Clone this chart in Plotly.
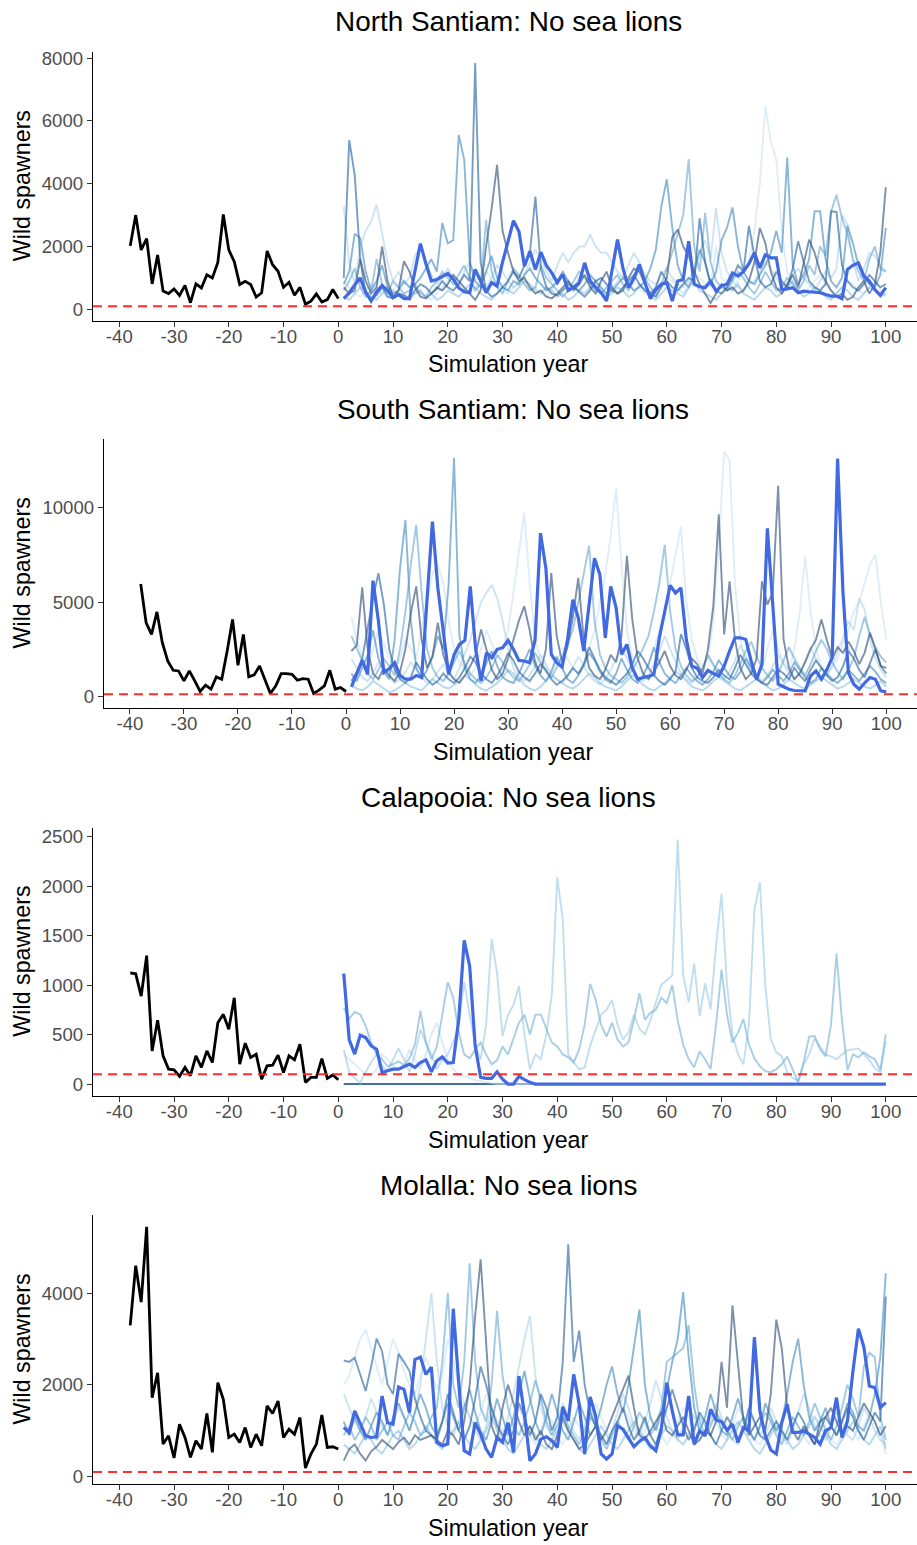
import plotly.graph_objects as go

# ---------------- data ----------------
years_hist = list(range(-38, 1))
years_sim = list(range(1, 101))
x_ticks = [-40, -30, -20, -10, 0, 10, 20, 30, 40, 50, 60, 70, 80, 90, 100]
x_ticktext = ["-40", "-30", "-20", "-10", "0", "10", "20", "30", "40", "50", "60", "70", "80", "90", "100"]
threshold = 100

titles = ["North Santiam: No sea lions", "South Santiam: No sea lions",
          "Calapooia: No sea lions", "Molalla: No sea lions"]

# ---- North Santiam ----
ns_hist = [2020, 3000, 1890, 2250, 810, 1730, 580, 500, 650, 440, 760, 210, 810, 680, 1100, 1000,
           1490, 3020, 1890, 1520, 790, 890, 790, 390, 525, 1860, 1420, 1210, 700, 860, 450, 700,
           160, 260, 490, 230, 310, 630, 340]
ns_focus = [340, 520, 780, 1000, 550, 270, 560, 760, 600, 370,
            470, 340, 340, 1250, 2090, 1450, 900, 950, 1050, 1140,
            960, 680, 560, 530, 1270, 900, 530, 850, 740, 1500,
            2150, 2820, 2480, 1370, 1850, 1270, 1820, 1400, 1160, 850,
            1110, 600, 700, 850, 1480, 900, 700, 530, 265, 1300,
            2220, 1300, 690, 1000, 1430, 850, 340, 630, 800, 850,
            265, 900, 950, 2170, 800, 720, 690, 900, 580, 750,
            800, 1160, 1060, 1200, 1450, 1800, 1320, 1740, 1640, 1640,
            630, 650, 690, 530, 580, 560, 550, 530, 470, 420,
            420, 340, 1270, 1400, 1480, 1060, 900, 630, 445, 690]
ns_sim_a = [1000, 5390, 4280, 1600, 500, 300, 450, 700, 400, 350,
            500, 450, 350, 600, 800, 700, 500, 650, 900, 700,
            600, 800, 1100, 900, 7840, 1500, 600, 400, 500, 700,
            900, 1200, 1000, 1400, 1800, 3590, 1300, 700, 500, 450,
            600, 800, 700, 550, 400, 600, 900, 1000, 800, 600,
            500, 700, 900, 1100, 800, 600, 500, 700, 1200, 900,
            700, 600, 800, 1000, 900, 2900, 1500, 800, 600, 500,
            700, 1000, 1400, 1200, 2660, 1700, 900, 700, 800, 1200,
            900, 700, 1300, 2170, 1500, 900, 700, 600, 800, 3120,
            3100, 1400, 900, 700, 600, 800, 1100, 900, 700, 800]
ns_sim_b = [700, 500, 600, 1600, 900, 500, 700, 2000, 900, 400,
            600, 1530, 1200, 700, 400, 350, 500, 700, 600, 800,
            1100, 900, 700, 500, 300, 600, 2000, 3200, 4600, 2500,
            1800, 1200, 900, 1000, 700, 500, 600, 400, 350, 500,
            700, 900, 600, 800, 1100, 700, 500, 900, 1200, 700,
            500, 600, 1000, 1300, 1200, 800, 500, 400, 700, 1000,
            2300, 2540, 2000, 1700, 1200, 800, 500, 200, 500, 800,
            600, 700, 500, 600, 900, 1500, 2590, 2100, 1200, 700,
            500, 800, 1100, 700, 1500, 2220, 1800, 1200, 900, 600,
            400, 500, 300, 400, 700, 900, 500, 800, 1800, 3890]
ns_sim_c = [800, 1200, 2410, 2270, 1200, 600, 900, 1400, 700, 500,
            600, 900, 700, 800, 1000, 1300, 1600, 1200, 2750, 2100,
            2200, 5550, 4760, 1500, 900, 700, 1200, 1700, 1000, 700,
            600, 900, 800, 1100, 1300, 1000, 800, 600, 700, 900,
            1200, 900, 700, 600, 800, 1100, 900, 700, 500, 600,
            800, 1000, 800, 600, 700, 900, 1300, 1900, 3280, 4140,
            2600, 1400, 900, 700, 1100, 1900, 1500, 800, 1200, 2200,
            2600, 3245, 2000, 1200, 900, 800, 1100, 1400, 1800, 2500,
            1800, 4830, 1400, 800, 1100, 1600, 3120, 3120, 1600, 900,
            700, 1000, 2660, 2100, 1400, 1000, 800, 700, 1100, 2590]
ns_sim_d = [600, 900, 1300, 700, 400, 600, 1600, 800, 500, 900,
            700, 500, 600, 800, 500, 400, 700, 900, 1200, 1000,
            800, 1100, 1400, 1000, 600, 800, 2850, 1200, 700, 500,
            900, 1300, 1100, 800, 600, 700, 1400, 1000, 800, 600,
            400, 600, 900, 1200, 1000, 800, 600, 500, 700, 900,
            1100, 800, 600, 900, 1300, 1000, 700, 500, 800, 1300,
            1800, 2400, 3000, 4780, 2000, 1200, 3070, 1500, 900, 700,
            600, 900, 1200, 1000, 700, 500, 800, 1200, 900, 600,
            700, 1000, 800, 600, 900, 1400, 1100, 2000, 1700, 3100,
            3650, 2900, 2400, 1600, 1200, 900, 1600, 2000, 1300, 1200]
ns_sim_e = [400, 300, 500, 700, 600, 400, 300, 500, 700, 600,
            500, 400, 300, 500, 600, 400, 500, 300, 400, 600,
            500, 400, 600, 800, 700, 500, 400, 300, 500, 700,
            600, 500, 700, 900, 800, 600, 500, 700, 600, 400,
            500, 300, 400, 600, 500, 700, 900, 600, 400, 500,
            700, 600, 400, 500, 800, 600, 400, 300, 500, 700,
            600, 500, 400, 700, 900, 600, 500, 400, 300, 500,
            700, 600, 800, 500, 400, 300, 500, 700, 600, 400,
            500, 700, 900, 600, 400, 500, 700, 600, 400, 300,
            500, 700, 600, 400, 300, 500, 700, 600, 400, 500]
ns_sim_f = [3280, 1500, 800, 2000, 2500, 2800, 3330, 2400, 1500, 900,
            1200, 800, 1000, 1700, 2000, 1500, 1100, 800, 1000, 1300,
            1000, 800, 1200, 1500, 1100, 900, 700, 1000, 1400, 1200,
            900, 700, 800, 1100, 1500, 1900, 1600, 1200, 900, 1400,
            1800, 1500, 1800, 2000, 2000, 2380, 2000, 1800, 1800, 1500,
            1200, 1000, 1400, 1800, 1500, 1100, 900, 800, 1100, 1300,
            1000, 800, 700, 900, 1300, 1800, 2200, 1600, 3220, 1800,
            1200, 900, 700, 600, 800, 900, 1200, 1500, 1300, 1000,
            800, 700, 1100, 1300, 1000, 800, 600, 900, 1200, 1000,
            1300, 3000, 2700, 1500, 900, 1300, 1800, 1700, 1400, 1200]
ns_sim_g = [900, 700, 500, 400, 600, 800, 700, 500, 400, 600,
            800, 900, 700, 500, 600, 400, 300, 500, 700, 900,
            1000, 800, 600, 500, 700, 900, 1200, 1000, 800, 600,
            500, 700, 900, 800, 600, 700, 500, 400, 600, 900,
            1100, 900, 700, 1000, 1300, 1000, 800, 600, 500, 700,
            900, 1100, 800, 600, 700, 500, 400, 600, 800, 1000,
            900, 700, 500, 800, 1200, 1000, 800, 700, 2000, 1000,
            800, 600, 900, 1200, 1500, 2500, 4000, 6480, 5340, 4760,
            2500, 1200, 800, 600, 500, 700, 900, 1100, 800, 600,
            500, 700, 900, 800, 600, 500, 700, 900, 600, 400]
ns_yticks = [0, 2000, 4000, 6000, 8000]

# ---- South Santiam ----
ss_hist = [5960, 3896, 3279, 4478, 2838, 1869, 1375, 1340, 811, 1340, 811, 247, 582, 370, 1023,
           899, 2398, 4073, 1640, 3279, 1023, 1128, 1604, 899, 141, 547, 1199, 1199, 1164, 846,
           934, 899, 141, 317, 547, 1375, 370, 458, 247]
ss_focus = [490, 1200, 1900, 1160, 6135, 4000, 1250, 1450, 1780, 1100,
            900, 900, 1100, 1000, 5000, 9270, 5750, 3500, 1160, 2200,
            2750, 2960, 5835, 2500, 810, 2310, 2045, 2490, 2575, 2960,
            2490, 1900, 1870, 1780, 3000, 8660, 6800, 2220, 1780, 1550,
            3000, 5130, 4160, 2400, 5000, 7330, 6450, 3100, 5835, 4690,
            2220, 2750, 1500, 900, 990, 1050, 1160, 3100, 4500, 5890,
            5480, 5750, 3000, 1600, 1480, 990, 1375, 1200, 1075, 1600,
            2400, 3100, 3100, 3015, 1870, 900, 1690, 8920, 4870, 635,
            500, 370, 300, 280, 280, 1075, 1340, 900, 1400, 2045,
            12620, 5500, 1250, 635, 370, 700, 990, 900, 280, 230]
ss_sim_a = [2400, 2700, 5780, 2500, 1200, 900, 1500, 1100, 800, 1300,
            2500, 4420, 5835, 3000, 1500, 2100, 3900, 2200, 1300, 900,
            700, 1100, 1600, 2200, 3545, 2400, 1400, 900, 1200, 2000,
            3000, 4000, 4780, 3500, 1800, 1200, 2500, 6540, 3200, 1800,
            2600, 4200, 6280, 3000, 1500, 1100, 900, 1400, 2200, 1800,
            3200, 7460, 4070, 2000, 1200, 900, 1300, 1800, 2400, 1600,
            1100, 900, 1400, 2000, 1700, 1200, 2500, 4800, 9660, 3280,
            6100, 3000, 1500, 900, 1200, 2000, 6100, 4870, 5500, 11180,
            3000, 1500, 900, 1200, 1800, 2500, 3000, 4070, 3000, 2000,
            2600, 2300, 2900, 2400, 1700, 2300, 3370, 2500, 1600, 1500]
ss_sim_b = [800, 1300, 2000, 3600, 5200, 6540, 4870, 2500, 1400, 900,
            700, 1000, 1800, 1300, 900, 600, 800, 1200, 900, 700,
            1000, 1500, 2100, 1800, 1200, 900, 700, 1100, 1600, 2300,
            1900, 1300, 1000, 800, 1200, 1700, 1400, 900, 600, 800,
            1100, 1500, 1200, 1700, 2600, 2000, 1400, 1000, 800, 600,
            900, 1200, 1700, 2400, 2000, 1500, 1100, 800, 600, 900,
            1300, 3300, 2500, 1500, 1000, 800, 700, 1000, 1400, 1100,
            900, 1500, 2200, 1700, 1200, 900, 700, 600, 1000, 1400,
            1200, 900, 1500, 1100, 800, 1400, 1900, 1500, 1100, 800,
            1000, 1600, 2400, 2000, 1400, 1000, 1800, 2500, 1600, 1200]
ss_sim_c = [1200, 800, 1500, 2200, 3500, 2000, 1300, 900, 3000, 6800,
            9360, 4000, 1500, 900, 1400, 2100, 3200, 2500, 6000, 12660,
            3200, 1500, 900, 700, 1100, 1800, 2400, 1600, 1000, 800,
            700, 1200, 1900, 2500, 1600, 1100, 800, 1300, 2100, 1500,
            900, 700, 1100, 1600, 2300, 1900, 1300, 900, 700, 1200,
            2000, 1400, 900, 700, 1100, 1700, 2600, 1800, 1200, 900,
            700, 1100, 1500, 1100, 800, 600, 900, 1300, 1900, 1500,
            1100, 900, 1300, 2000, 1500, 1000, 700, 1000, 1400, 1100,
            800, 1200, 1800, 1400, 1000, 700, 900, 1500, 1200, 900,
            700, 1000, 1400, 1100, 800, 1200, 1600, 1300, 900, 700]
ss_sim_d = [3200, 2500, 1800, 1200, 900, 1400, 2000, 1600, 1100, 2500,
            4500, 7000, 9100, 5500, 2500, 1500, 1000, 800, 1200, 1800,
            2400, 1700, 1200, 900, 700, 1000, 1500, 2200, 1800, 1300,
            1000, 800, 1200, 1700, 2300, 1800, 1300, 1000, 1500, 2100,
            2800, 3500, 5000, 6500, 7990, 4000, 2200, 1500, 1100, 900,
            700, 1000, 1400, 1900, 2600, 3200, 4500, 6000, 8040, 4500,
            2500, 1600, 1100, 800, 1000, 1500, 2200, 1700, 1200, 900,
            700, 1100, 1700, 2400, 2900, 2100, 1500, 1100, 800, 1200,
            1900, 2600, 2000, 1500, 1100, 1700, 2400, 3000, 2500, 1800,
            1300, 900, 1400, 2000, 3200, 4200, 3300, 2600, 2100, 1800]
ss_sim_e = [600, 400, 300, 500, 800, 600, 400, 200, 300, 500,
            700, 500, 400, 300, 600, 900, 700, 500, 400, 600,
            800, 1100, 900, 600, 400, 300, 500, 700, 1000, 1400,
            1200, 900, 600, 400, 300, 500, 800, 1100, 900, 700,
            500, 400, 600, 900, 1200, 1000, 700, 500, 400, 300,
            500, 800, 1100, 900, 600, 400, 300, 500, 700, 1000,
            1300, 1100, 800, 500, 400, 300, 500, 800, 1000, 800,
            600, 400, 300, 500, 700, 900, 700, 500, 300, 400,
            600, 900, 700, 500, 400, 600, 800, 1000, 800, 600,
            400, 500, 700, 900, 700, 500, 400, 600, 800, 500]
ss_sim_f = [2000, 1500, 1000, 800, 1200, 1800, 1400, 1000, 700, 900,
            1300, 1800, 1400, 1000, 700, 900, 1300, 1700, 1200, 900,
            1500, 2200, 3000, 4000, 5000, 5500, 5920, 5200, 4000, 2500,
            1500, 1000, 800, 1100, 1600, 2200, 1700, 1200, 900, 700,
            1000, 1500, 2100, 1600, 1100, 800, 600, 900, 1400, 2000,
            2600, 2000, 1400, 1000, 800, 1100, 1700, 2400, 3200, 2500,
            1800, 1200, 900, 700, 1000, 1500, 2100, 1600, 1100, 900,
            1300, 1900, 2700, 2100, 1500, 1100, 800, 1100, 1600, 2200,
            1700, 1200, 900, 1300, 1900, 2600, 2000, 1500, 1100, 1600,
            2400, 3100, 4000, 3500, 5200, 4600, 3000, 2000, 1400, 1000]
ss_sim_g = [4200, 3000, 2000, 1500, 2500, 3500, 2800, 2000, 1500, 2000,
            3000, 2500, 2000, 3500, 5000, 6500, 7000, 6000, 4000, 2500,
            1800, 1400, 1100, 1500, 2500, 3500, 2800, 2000, 2500, 3500,
            5500, 7500, 9750, 6000, 3000, 2000, 1500, 1200, 1800, 2600,
            2000, 1500, 1200, 1600, 2500, 3500, 5000, 6500, 8500, 11040,
            7000, 3500, 2000, 1500, 1200, 1600, 2500, 3500, 4500, 6000,
            7500, 9010, 5000, 3000, 2000, 1500, 2000, 4000, 8000, 13010,
            12540, 6000, 3000, 1800, 1300, 1000, 1500, 2500, 3500, 2500,
            1800, 1400, 2500, 4500, 7420, 4500, 2500, 1600, 1200, 1500,
            2000, 2800, 3500, 4500, 5000, 6000, 7000, 7510, 5000, 3000]
ss_yticks = [0, 5000, 10000]

# ---- Calapooia ----
cal_hist = [1124, 1114, 889, 1298, 335, 644, 285, 151, 144, 77, 168, 84, 285, 168, 335, 218,
            620, 704, 553, 872, 201, 413, 268, 302, 50, 184, 191, 292, 117, 285, 245, 402,
            17, 67, 67, 258, 57, 91, 44]
cal_focus = [1117, 446, 302, 493, 470, 386, 352, 117, 134, 151,
             151, 178, 201, 168, 218, 245, 124, 235, 275, 211,
             218, 654, 1452, 1191, 386, 67, 57, 57, 124, 50,
             0, 0, 77, 44, 17, 0, 0, 0, 0, 0,
             0, 0, 0, 0, 0, 0, 0, 0, 0, 0,
             0, 0, 0, 0, 0, 0, 0, 0, 0, 0,
             0, 0, 0, 0, 0, 0, 0, 0, 0, 0,
             0, 0, 0, 0, 0, 0, 0, 0, 0, 0,
             0, 0, 0, 0, 0, 0, 0, 0, 0, 0,
             0, 0, 0, 0, 0, 0, 0, 0, 0, 0]
cal_sim_zero = [0, 0, 0, 0, 0, 0, 0, 0, 0, 0,
                0, 0, 0, 0, 0, 0, 0, 0, 0, 0,
                0, 0, 0, 0, 0, 0, 0, 0, 0, 0,
                0, 0, 0, 0, 0, 0, 0, 0, 0, 0,
                0, 0, 0, 0, 0, 0, 0, 0, 0, 0,
                0, 0, 0, 0, 0, 0, 0, 0, 0, 0,
                0, 0, 0, 0, 0, 0, 0, 0, 0, 0,
                0, 0, 0, 0, 0, 0, 0, 0, 0, 0,
                0, 0, 0, 0, 0, 0, 0, 0, 0, 0,
                0, 0, 0, 0, 0, 0, 0, 0, 0, 0]
cal_sim_m = [770, 660, 728, 704, 587, 420, 300, 250, 180, 200,
             230, 190, 260, 400, 738, 420, 250, 380, 700, 1030,
             872, 520, 300, 260, 350, 420, 300, 200, 240, 380,
             300, 460, 620, 700, 500, 700, 704, 560, 420, 380,
             300, 270, 220, 350, 600, 1013, 855, 600, 480, 620,
             450, 380, 420, 650, 916, 650, 720, 750, 872, 820,
             1000, 640, 400, 250, 170, 330, 250, 150, 600, 1157,
             700, 420, 520, 655, 400, 260, 180, 130, 120, 150,
             200, 278, 150, 17, 220, 480, 486, 350, 280, 600,
             1318, 640, 140, 300, 270, 320, 280, 250, 140, 503]
cal_sim_l = [350, 120, 60, 10, 120, 220, 300, 180, 130, 250,
             360, 250, 120, 300, 550, 420, 300, 150, 250, 300,
             420, 600, 1030, 700, 400, 250, 600, 1466, 1124, 486,
             700, 800, 990, 500, 150, 300, 250, 500, 900, 2090,
             1660, 300, 218, 151, 168, 386, 550, 700, 750, 850,
             600, 450, 520, 700, 560, 500, 640, 820, 1000, 1050,
             1100, 2472, 1097, 828, 1218, 688, 1016, 755, 1400, 1922,
             1000, 500, 300, 200, 600, 1761, 2039, 990, 450, 320,
             280, 120, 60, 30, 200, 300, 460, 380, 300, 280,
             250, 300, 340, 350, 360, 300, 240, 160, 120, 430]
cal_sim_f = [300, 250, 200, 150, 100, 80, 150, 300, 250, 180,
             150, 200, 350, 250, 150, 300, 500, 620, 420, 250,
             150, 100, 80, 60, 40, 30, 20, 10, 0, 0,
             0, 0, 0, 0, 0, 0, 0, 0, 0, 0,
             0, 0, 0, 0, 0, 0, 0, 0, 0, 0,
             0, 0, 0, 0, 0, 0, 0, 0, 0, 0,
             0, 0, 0, 0, 0, 0, 0, 0, 0, 0,
             0, 0, 0, 0, 0, 0, 0, 0, 0, 0,
             0, 0, 0, 0, 0, 0, 0, 0, 0, 0,
             0, 0, 0, 0, 0, 0, 0, 0, 0, 0]
cal_yticks = [0, 500, 1000, 1500, 2000, 2500]

# ---- Molalla ----
mol_hist = [3297, 4598, 3803, 5444, 1721, 2263, 709, 889, 405, 1142, 853, 419, 781, 600, 1374,
            528, 2046, 1685, 853, 925, 745, 1070, 636, 925, 672, 1540, 1374, 1648, 853, 1034,
            925, 1287, 188, 492, 709, 1345, 636, 651, 600]
mol_focus = [1070, 962, 1431, 1142, 889, 853, 868, 1757, 1178, 1142,
             1952, 1901, 1395, 2552, 2603, 2227, 2386, 745, 672, 709,
             3658, 2046, 564, 492, 1178, 925, 600, 419, 853, 745,
             1178, 528, 2191, 1359, 347, 492, 817, 868, 781, 636,
             1518, 1215, 2227, 1576, 492, 1735, 1323, 492, 383, 492,
             1106, 1034, 853, 651, 766, 853, 672, 564, 1034, 2046,
             1431, 911, 911, 1757, 709, 998, 889, 1468, 1229, 1200,
             1012, 1142, 745, 1070, 998, 3037, 1431, 889, 578, 492,
             1178, 1576, 962, 962, 998, 925, 853, 709, 998, 1070,
             1721, 853, 1215, 2299, 3224, 2820, 1974, 1938, 1504, 1612]
mol_sim_a = [350, 600, 700, 500, 350, 550, 650, 800, 700, 600,
             750, 850, 700, 900, 800, 850, 900, 800, 700, 1000,
             900, 700, 1200, 2000, 3500, 4736, 2800, 1100, 800, 1500,
             2000, 1600, 1200, 900, 1100, 800, 1000, 700, 600, 900,
             1300, 1000, 800, 600, 700, 900, 1100, 800, 1000, 1300,
             1600, 1900, 2200, 1500, 900, 800, 1000, 1200, 1400, 1000,
             900, 1100, 1300, 1000, 700, 800, 1000, 900, 1200, 2500,
             1500, 3731, 2400, 1200, 900, 1100, 1300, 1000, 1800, 3420,
             2800, 1500, 1000, 800, 1100, 900, 700, 1200, 1300, 1500,
             1200, 900, 1100, 1000, 1300, 1600, 1400, 1200, 900, 1100]
mol_sim_b = [2530, 2500, 2590, 2200, 1865, 2400, 3008, 2733, 2010, 1800,
             2675, 2500, 2300, 1700, 1300, 1000, 900, 800, 1200, 1800,
             1400, 1000, 800, 1100, 1700, 2400, 2000, 1500, 1100, 900,
             700, 1000, 1600, 1300, 900, 1200, 1800, 1500, 1000, 1300,
             2500, 5061, 2500, 3181, 2000, 1400, 1100, 900, 700, 1000,
             1200, 1500, 1100, 800, 1000, 1300, 900, 700, 1100, 1500,
             1900, 1500, 1100, 800, 1000, 1400, 1200, 900, 700, 1000,
             1300, 1100, 800, 1000, 1500, 1200, 900, 800, 1000, 1200,
             1000, 800, 1100, 1400, 1200, 900, 700, 1000, 1300, 1100,
             900, 1200, 1500, 1300, 1000, 800, 1100, 1400, 1200, 3926]
mol_sim_c = [1200, 900, 1300, 1000, 800, 1100, 1400, 1200, 900, 1300,
             1600, 1300, 1000, 1400, 1800, 1500, 1100, 900, 1200, 1600,
             1300, 1000, 1500, 1900, 1400, 1000, 800, 1200, 1700, 1300,
             900, 1300, 1800, 2300, 1700, 1200, 900, 1300, 1800, 1400,
             1000, 800, 1200, 1600, 1300, 900, 1100, 1500, 2000, 2400,
             1800, 1400, 2000, 2800, 3637, 2000, 1300, 1000, 1400, 1900,
             2500, 3000, 4020, 2600, 1500, 1000, 1300, 1800, 1400, 1000,
             900, 1300, 1700, 1300, 1000, 800, 1100, 1600, 1300, 1000,
             1200, 1800, 2500, 3008, 2000, 1300, 1000, 1200, 1500, 1100,
             900, 1200, 1600, 1400, 1100, 1000, 1300, 1800, 2600, 4432]
mol_sim_d = [900, 1100, 800, 1000, 1300, 1100, 800, 1000, 1200, 900,
             800, 1100, 1400, 1200, 900, 1000, 1300, 1500, 2500, 3998,
             2000, 1500, 2500, 4649, 2500, 1500, 1200, 2000, 3615, 2200,
             1500, 1100, 900, 1200, 1600, 2100, 1700, 1200, 900, 1100,
             1400, 1100, 900, 700, 1000, 1300, 1100, 800, 600, 900,
             1200, 1000, 800, 1100, 1400, 1200, 900, 1100, 1500, 2500,
             2600, 2700, 2800, 3300, 2000, 1200, 900, 1100, 1400, 1200,
             1000, 800, 1100, 1300, 1000, 800, 1100, 1400, 1200, 900,
             700, 1000, 1300, 1100, 900, 1200, 1600, 1300, 1000, 800,
             1100, 1500, 2000, 1700, 1300, 2400, 2700, 2600, 1300, 800]
mol_sim_e = [700, 600, 500, 700, 900, 800, 600, 500, 700, 900,
             1000, 800, 600, 700, 900, 1100, 900, 700, 600, 800,
             1000, 1200, 900, 700, 600, 800, 1000, 1300, 1000, 800,
             600, 500, 700, 900, 1100, 900, 700, 600, 800, 1000,
             1200, 1000, 800, 600, 500, 700, 900, 1100, 900, 700,
             600, 800, 1000, 1200, 1000, 800, 600, 700, 900, 1100,
             1000, 800, 700, 900, 1100, 1300, 1100, 900, 700, 600,
             800, 1000, 1200, 1000, 800, 600, 500, 700, 900, 1100,
             1000, 800, 600, 700, 900, 1100, 1300, 1100, 900, 700,
             600, 800, 1000, 1200, 1000, 800, 700, 900, 1100, 600]
mol_sim_f = [1800, 1500, 1200, 1000, 1300, 1700, 1400, 1100, 900, 1200,
             1500, 1300, 1000, 1400, 2000, 3000, 4000, 2500, 1500, 1100,
             900, 1200, 1600, 1300, 1000, 800, 1100, 1500, 1200, 900,
             1300, 1800, 2400, 3000, 3500, 2200, 1500, 1100, 900, 1200,
             1600, 1300, 1000, 800, 1100, 1500, 1200, 900, 700, 1000,
             1400, 1800, 1500, 1100, 900, 1200, 1600, 2100, 1700, 1300,
             1000, 800, 1100, 1500, 1300, 1000, 900, 1200, 1600, 1300,
             1000, 800, 700, 1000, 1400, 1200, 900, 1100, 1500, 1200,
             900, 700, 1000, 1400, 1800, 1500, 1100, 900, 800, 1100,
             1400, 1200, 900, 800, 1100, 1500, 1300, 1000, 800, 700]
mol_sim_g = [2000, 2200, 2600, 3000, 3200, 2800, 2400, 2000, 2500, 3000,
             2700, 2300, 2000, 1800, 2200, 2600, 2300, 1900, 2200, 3000,
             2500, 2000, 1600, 1300, 1100, 1400, 1800, 1500, 1200, 1000,
             800, 1100, 1500, 1200, 900, 700, 1000, 1400, 1200, 900,
             700, 1000, 1300, 1100, 800, 1200, 1600, 1300, 1000, 800,
             1100, 1500, 1300, 1000, 800, 1000, 1300, 1100, 900, 700,
             900, 1200, 1500, 1300, 1000, 800, 1000, 1400, 1200, 900,
             800, 1100, 1500, 1300, 1000, 800, 700, 900, 1200, 1000,
             800, 1000, 1300, 1100, 900, 700, 1000, 1300, 1100, 800,
             700, 900, 1200, 1000, 800, 1100, 1400, 1200, 900, 500]
mol_yticks = [0, 2000, 4000]

# ---------------- styling ----------------
FONT = "Liberation Sans, Arial, Helvetica, sans-serif"
W, H = 917, 1545
sim_colors = ["rgba(195,222,242,0.55)", "rgba(165,205,232,0.55)", "rgba(135,190,225,0.6)",
              "rgba(105,170,212,0.62)", "rgba(75,145,195,0.65)", "rgba(45,105,165,0.65)",
              "rgba(55,85,125,0.65)"]
cal_colors = ["rgba(45,95,150,0.9)", "rgba(195,222,242,0.6)", "rgba(160,205,230,0.65)",
              "rgba(120,180,215,0.65)"]

panels = [
    dict(hist=ns_hist, focus=ns_focus,
         sims=[ns_sim_g, ns_sim_f, ns_sim_e, ns_sim_d, ns_sim_c, ns_sim_a, ns_sim_b],
         colors=sim_colors, yticks=ns_yticks, yrange=[-358, 8200],
         px=(93, 48, 318), title_x=508),
    dict(hist=ss_hist, focus=ss_focus,
         sims=[ss_sim_g, ss_sim_f, ss_sim_e, ss_sim_d, ss_sim_c, ss_sim_b, ss_sim_a],
         colors=sim_colors, yticks=ss_yticks, yrange=[-619, 13664],
         px=(104, 437, 707), title_x=513),
    dict(hist=cal_hist, focus=cal_focus,
         sims=[cal_sim_zero, cal_sim_f, cal_sim_l, cal_sim_m],
         colors=cal_colors, yticks=cal_yticks, yrange=[-118, 2592],
         px=(93, 827.3, 1096.7), title_x=508),
    dict(hist=mol_hist, focus=mol_focus,
         sims=[mol_sim_g, mol_sim_f, mol_sim_e, mol_sim_d, mol_sim_c, mol_sim_b, mol_sim_a],
         colors=sim_colors, yticks=mol_yticks, yrange=[-160, 5696],
         px=(93, 1216.7, 1486.7), title_x=508),
]

for p in panels:
    assert len(p["hist"]) == len(years_hist), len(p["hist"])
    assert len(p["focus"]) == len(years_sim), len(p["focus"])
    for s in p["sims"]:
        assert len(s) == len(years_sim), len(s)

fig = go.Figure()
annotations = []
shapes = []
layout_axes = {}

for i, p in enumerate(panels):
    n = "" if i == 0 else str(i + 1)
    xa, ya = "x" + n, "y" + n
    left_px, top_px, bot_px = p["px"]
    xdom = [left_px / W, 1.0]
    ydom = [1 - bot_px / H, 1 - top_px / H]

    for s, c in zip(p["sims"], p["colors"]):
        fig.add_trace(go.Scatter(x=years_sim, y=s, mode="lines", xaxis=xa, yaxis=ya,
                                 line=dict(color=c, width=1.9), hoverinfo="skip", showlegend=False))
    fig.add_trace(go.Scatter(x=years_sim, y=p["focus"], mode="lines", xaxis=xa, yaxis=ya,
                             line=dict(color="#4169E1", width=3.2), showlegend=False))
    fig.add_trace(go.Scatter(x=years_hist, y=p["hist"], mode="lines", xaxis=xa, yaxis=ya,
                             line=dict(color="black", width=2.8), showlegend=False))

    shapes.append(dict(type="line", xref=xa + " domain", yref=ya, x0=0, x1=1,
                       y0=threshold, y1=threshold,
                       line=dict(color="rgba(255,35,35,0.95)", width=2, dash="9px,6px")))

    layout_axes["xaxis" + n] = dict(
        domain=xdom, anchor=ya, range=[-44.8, 105.7], tickmode="array", tickvals=x_ticks,
        ticktext=x_ticktext, showline=True, linecolor="black", linewidth=1.3,
        ticks="outside", ticklen=5, tickwidth=1.1, tickcolor="#333333",
        ticklabelstandoff=-6,
        showgrid=False, zeroline=False,
        tickfont=dict(family=FONT, size=18.6, color="#4D4D4D"))
    layout_axes["yaxis" + n] = dict(
        domain=ydom, anchor=xa, range=p["yrange"], tickmode="array", tickvals=p["yticks"],
        ticktext=[str(v) for v in p["yticks"]], showline=True, linecolor="black", linewidth=1.3,
        ticks="outside", ticklen=5, tickwidth=1.1, tickcolor="#333333",
        showgrid=False, zeroline=False,
        tickfont=dict(family=FONT, size=18.6, color="#4D4D4D"))

    # panel title
    annotations.append(dict(text=titles[i], xref="paper", yref="paper",
                            x=p["title_x"] / W, y=1 - (top_px - 30) / H,
                            xanchor="center", yanchor="middle", showarrow=False,
                            font=dict(family=FONT, size=27.9, color="black")))
    # x axis title
    annotations.append(dict(text="Simulation year", xref="paper", yref="paper",
                            x=p["title_x"] / W, y=1 - (bot_px + 44) / H,
                            xanchor="center", yanchor="middle", showarrow=False,
                            font=dict(family=FONT, size=23.25, color="black")))
    # y axis title
    annotations.append(dict(text="Wild spawners", xref="paper", yref="paper",
                            x=22 / W, y=1 - ((top_px + bot_px) / 2) / H, textangle=-90,
                            xanchor="center", yanchor="middle", showarrow=False,
                            font=dict(family=FONT, size=23.25, color="black")))

fig.update_layout(width=W, height=H, margin=dict(l=0, r=0, t=0, b=0),
                  plot_bgcolor="white", paper_bgcolor="white", showlegend=False,
                  annotations=annotations, shapes=shapes, font=dict(family=FONT),
                  hovermode=False, **layout_axes)

fig.write_html("out.html", config={"displayModeBar": False},
               post_script="document.body.style.margin='0';document.body.style.padding='0';"
                           "document.body.style.overflow='hidden';")
